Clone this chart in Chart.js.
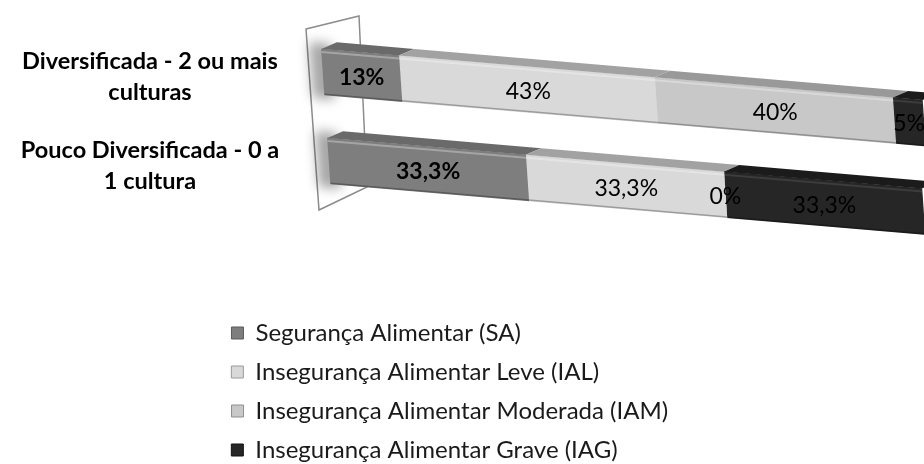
<!DOCTYPE html>
<html>
<head>
<meta charset="utf-8">
<script src="https://cdn.jsdelivr.net/npm/chart.js@4/dist/chart.umd.min.js"></script>
<style>
  html, body { margin: 0; padding: 0; background: #ffffff; overflow: hidden; }
  #box { width: 924px; height: 464px; }
</style>
</head>
<body>
<div id="box"><canvas id="chart" width="924" height="464"></canvas></div>
<script>
// Categories (two lines each) and the four food-security series, in percent
const categories = [
  ['Diversificada - 2 ou mais', 'culturas'],
  ['Pouco Diversificada - 0 a', '1 cultura']
];
const seriesNames = [
  'Segurança Alimentar (SA)',
  'Insegurança Alimentar Leve (IAL)',
  'Insegurança Alimentar Moderada (IAM)',
  'Insegurança Alimentar Grave (IAG)'
];
const saValues  = [13, 33.3];
const ialValues = [43, 33.3];
const iamValues = [40, 0];
const iagValues = [5, 33.3];

// Styling
const frontColors = ['#7e7e7e', '#d9d9d9', '#c8c8c8', '#262626'];
const topColors   = ['#6a6a6a', '#a2a2a2', '#999999', '#1b1b1b'];
const edgeColors  = ['#5a5a5a', '#9a9a9a', '#8f8f8f', '#111111'];
const boldSeries  = [true, false, false, false];
const FONT = 'Lato, "Open Sans", "DejaVu Sans", sans-serif';

// Oblique view of the bar floor
const SKEW_X = 0.068, SKEW_Y = 0.085, LIFT = -5;
const TOP_DX = 16, TOP_DY = -8;

function origin(chart) {
  return { ox: chart.chartArea.left, oy: chart.scales.y.getPixelForValue(0) };
}
function applySkew(chart) {
  const { ox, oy } = origin(chart);
  chart.ctx.transform(1, SKEW_Y, SKEW_X, 1, -SKEW_X * oy, -SKEW_Y * ox + LIFT);
}
function project(chart, x, y) {
  const { ox, oy } = origin(chart);
  return { x: x + SKEW_X * (y - oy), y: y + SKEW_Y * (x - ox) + LIFT };
}
function fmtPct(v) {
  return v.toLocaleString('pt-BR', { maximumFractionDigits: 1 }) + '%';
}

// Legend entries padded to a common width so each sits on its own row
const LEGEND_SIZE = 24;
const LEGEND_TEXT_W = 430;
function padText(text, font, target) {
  const c = document.createElement('canvas').getContext('2d');
  c.font = font;
  let t = text, guard = 0;
  while (c.measureText(t + ' ').width <= target && guard++ < 400) t += ' ';
  guard = 0;
  while (c.measureText(t).width < target && guard++ < 60) t += '\u200A';
  return t;
}

// Width of the category axis labels, used to centre them in the axis
const TICK_SIZE = 23.5;
function widestTick() {
  const c = document.createElement('canvas').getContext('2d');
  c.font = 'bold ' + TICK_SIZE + 'px ' + FONT;
  let w = 0;
  categories.forEach(lines => lines.forEach(l => { w = Math.max(w, c.measureText(l).width); }));
  return w;
}
const AXIS_W = 323;
const LABEL_CENTER = 150;

const bar3d = {
  id: 'bar3d',
  beforeDatasetsDraw(chart) {
    const { ctx, chartArea: ca } = chart;
    // back wall behind the bars
    ctx.save();
    ctx.beginPath();
    ctx.moveTo(ca.left - 17, ca.top - 3.5);
    ctx.lineTo(ca.left + 36, ca.top - 16.5);
    ctx.lineTo(ca.left + 44, ca.bottom - 23.5);
    ctx.lineTo(ca.left - 4, ca.bottom - 0.5);
    ctx.closePath();
    ctx.fillStyle = '#ffffff';
    ctx.fill();
    ctx.strokeStyle = '#8c8c8c';
    ctx.lineWidth = 1.5;
    ctx.stroke();
    ctx.restore();

    ctx.save();
    applySkew(chart);
    // soft shadow where the bars meet the wall
    const meta = chart.getDatasetMeta(0);
    ctx.save();
    ctx.filter = 'blur(6px)';
    ctx.fillStyle = 'rgba(0,0,0,0.35)';
    meta.data.forEach(el => {
      const p = el.getProps(['y', 'base', 'height'], true);
      ctx.fillRect(p.base - 12, p.y - p.height / 2 - 6, 22, p.height + 10);
    });
    ctx.restore();
  },
  afterDatasetsDraw(chart) {
    const ctx = chart.ctx;
    // top faces and bevel lines, still in the oblique frame
    chart.data.datasets.forEach((ds, i) => {
      const meta = chart.getDatasetMeta(i);
      meta.data.forEach(el => {
        const p = el.getProps(['x', 'y', 'base', 'height'], true);
        const x1 = Math.min(p.x, p.base), x2 = Math.max(p.x, p.base);
        if (x2 - x1 < 0.5) return;
        const yt = p.y - p.height / 2, yb = p.y + p.height / 2;
        ctx.beginPath();
        ctx.moveTo(x1, yt);
        ctx.lineTo(x2, yt);
        ctx.lineTo(x2 + TOP_DX, yt + TOP_DY);
        ctx.lineTo(x1 + TOP_DX, yt + TOP_DY);
        ctx.closePath();
        ctx.fillStyle = topColors[i];
        ctx.fill();
        ctx.fillStyle = i === 3 ? 'rgba(255,255,255,0.10)' : 'rgba(255,255,255,0.30)';
        ctx.fillRect(x1, yt + 2, x2 - x1, 2);
        ctx.fillStyle = 'rgba(0,0,0,0.28)';
        ctx.fillRect(x1, yb - 1.5, x2 - x1, 1.5);
      });
    });
    ctx.restore();

    // value labels, upright text at the centre of each segment
    ctx.save();
    ctx.textAlign = 'center';
    ctx.textBaseline = 'middle';
    ctx.fillStyle = '#000000';
    chart.data.datasets.forEach((ds, i) => {
      const meta = chart.getDatasetMeta(i);
      ctx.font = (boldSeries[i] ? 'bold ' : '') + '23px ' + FONT;
      meta.data.forEach((el, j) => {
        const p = el.getProps(['x', 'y', 'base'], true);
        const q = project(chart, (p.x + p.base) / 2, p.y);
        ctx.fillText(fmtPct(ds.data[j]), q.x, q.y + 2);
      });
    });
    ctx.restore();
  }
};

const legendFont = 'normal ' + LEGEND_SIZE + 'px ' + FONT;
const seriesValues = [saValues, ialValues, iamValues, iagValues];

new Chart(document.getElementById('chart'), {
  type: 'bar',
  data: {
    labels: categories,
    datasets: seriesNames.map((name, i) => ({
      label: name,
      data: seriesValues[i],
      backgroundColor: frontColors[i],
      borderWidth: 0,
      barThickness: 46,
      clip: false
    }))
  },
  options: {
    indexAxis: 'y',
    responsive: false,
    animation: false,
    devicePixelRatio: 1,
    events: [],
    layout: { padding: { top: 32.5, right: 6, bottom: -8, left: 0 } },
    scales: {
      x: {
        stacked: true,
        min: 0,
        max: 100,
        grid: { display: false, drawTicks: false },
        border: { display: false },
        ticks: { display: false },
        afterFit(scale) { scale.height = 95.5; }
      },
      y: {
        stacked: true,
        grid: { display: false, drawTicks: false },
        border: { display: false },
        ticks: {
          autoSkip: false,
          crossAlign: 'center',
          padding: AXIS_W - LABEL_CENTER - widestTick() / 2,
          color: '#000000',
          font: { family: FONT, size: TICK_SIZE, weight: 'bold', lineHeight: 31 / TICK_SIZE }
        },
        afterFit(scale) {
          scale.width = AXIS_W;
          scale.paddingTop = 0;
          scale.paddingBottom = 0;
        }
      }
    },
    plugins: {
      tooltip: { enabled: false },
      legend: {
        position: 'bottom',
        align: 'center',
        labels: {
          boxWidth: 12,
          boxHeight: 12,
          padding: 15,
          color: '#1a1a1a',
          font: { family: FONT, size: LEGEND_SIZE },
          generateLabels(chart) {
            return chart.data.datasets.map((ds, i) => ({
              text: padText(ds.label, legendFont, LEGEND_TEXT_W),
              fillStyle: frontColors[i],
              strokeStyle: edgeColors[i],
              lineWidth: 1,
              fontColor: '#1a1a1a',
              hidden: false,
              datasetIndex: i
            }));
          }
        }
      }
    }
  },
  plugins: [bar3d]
});
</script>
</body>
</html>
